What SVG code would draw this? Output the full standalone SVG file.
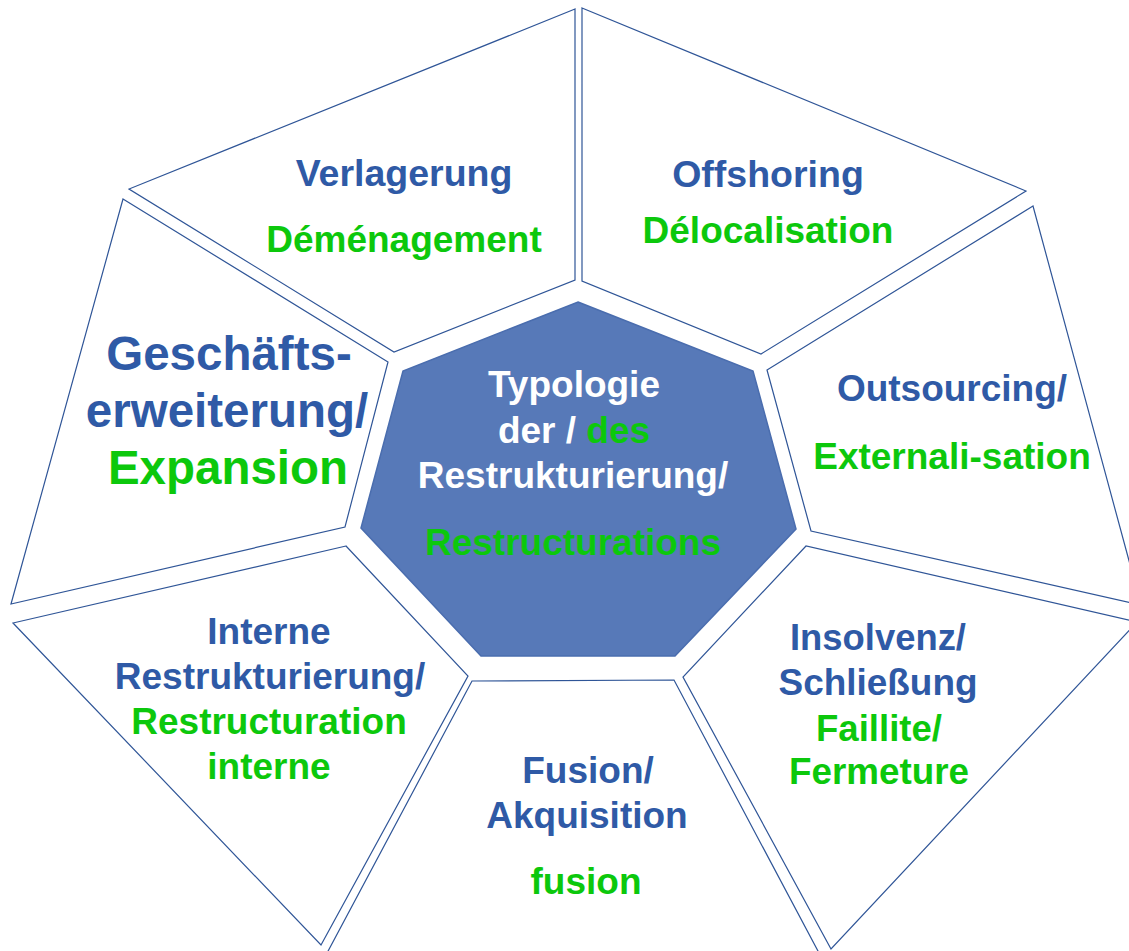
<svg xmlns="http://www.w3.org/2000/svg" width="1129" height="951" viewBox="0 0 1129 951">
<style>
.seg{fill:#ffffff;stroke:#2F5597;stroke-width:1.2}
.hub{fill:#5779B8;stroke:#4A6DAE;stroke-width:1.5}
text{font-family:"Liberation Sans",Arial,sans-serif;font-weight:bold;text-anchor:middle}
.b{fill:#2F5AA6}
.g{fill:#0CC80C}
.w{fill:#ffffff}
</style>
<rect width="1129" height="951" fill="#ffffff"/>
<g id="verlagerung">
<polygon class="seg" points="575,9 129,189 394,352 575,280"/>
<text class="b" x="404" y="186" font-size="37.5">Verlagerung</text>
<text class="g" x="404" y="252" font-size="37">Déménagement</text>
</g>
<g id="offshoring">
<polygon class="seg" points="582,8 1026,191 761,354 582,281"/>
<text class="b" x="768" y="187" font-size="37.5">Offshoring</text>
<text class="g" x="768" y="243" font-size="37">Délocalisation</text>
</g>
<g id="outsourcing">
<polygon class="seg" points="1033,206 767,370 811,531 1141,605"/>
<text class="b" x="952" y="401" font-size="37">Outsourcing/</text>
<text class="g" x="952" y="469" font-size="37">Externali-sation</text>
</g>
<g id="insolvenz">
<polygon class="seg" points="806,546 683,677 831,949 1137,622"/>
<text class="b" x="878" y="650" font-size="37" textLength="176" lengthAdjust="spacingAndGlyphs">Insolvenz/</text>
<text class="b" x="878" y="695" font-size="37" textLength="199" lengthAdjust="spacingAndGlyphs">Schließung</text>
<text class="g" x="879" y="741" font-size="37" textLength="126" lengthAdjust="spacingAndGlyphs">Faillite/</text>
<text class="g" x="879" y="784" font-size="37" textLength="180" lengthAdjust="spacingAndGlyphs">Fermeture</text>
</g>
<g id="fusion">
<polygon class="seg" points="472,681 674,680 844,1000 573,1100 302,1000"/>
<text class="b" x="588" y="783" font-size="37">Fusion/</text>
<text class="b" x="587" y="828" font-size="37">Akquisition</text>
<text class="g" x="586" y="894" font-size="37">fusion</text>
</g>
<g id="interne">
<polygon class="seg" points="346,546 13,623 321,945 468,676"/>
<text class="b" x="269" y="644" font-size="37">Interne</text>
<text class="b" x="270" y="689" font-size="37">Restrukturierung/</text>
<text class="g" x="269" y="734" font-size="37">Restructuration</text>
<text class="g" x="269" y="779" font-size="37">interne</text>
</g>
<g id="geschaefts">
<polygon class="seg" points="123,199 388,362 345,527 11,604"/>
<text class="b" x="229" y="370" font-size="47.5">Geschäfts-</text>
<text class="b" x="227" y="427" font-size="47.5">erweiterung/</text>
<text class="g" x="228" y="484" font-size="47.5">Expansion</text>
</g>
<g id="center">
<polygon class="hub" points="578,302 753,371 796,529 675,656 481,656 361,528 403,371"/>
<text class="w" x="574" y="397" font-size="37">Typologie</text>
<text class="w" x="574" y="443" font-size="37">der / <tspan class="g">des</tspan></text>
<text class="w" x="573" y="488" font-size="37">Restrukturierung/</text>
<text class="g" x="573" y="555" font-size="37">Restructurations</text>
</g>
<g id="connectors"></g>
</svg>
